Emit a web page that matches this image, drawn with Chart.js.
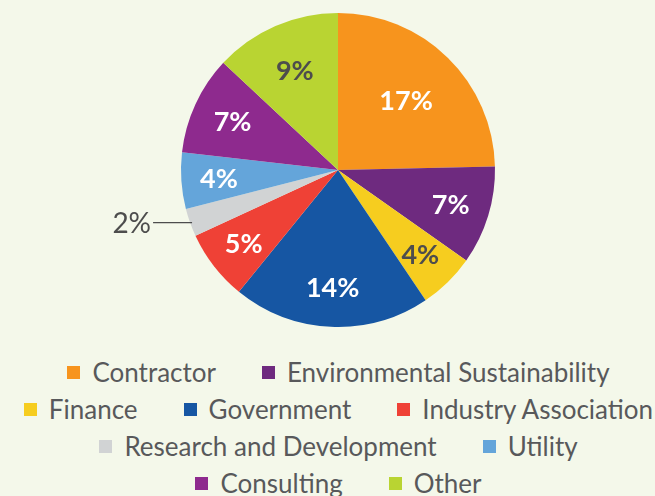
<!DOCTYPE html>
<html>
<head>
<meta charset="utf-8">
<title>Respondents by sector</title>
<script src="https://cdn.jsdelivr.net/npm/chart.js"></script>
<style>
  html, body { margin: 0; padding: 0; background: #f4f8ea; }
  #wrap { position: relative; width: 655px; height: 496px; overflow: hidden; }
  #chart-box { position: absolute; left: 0; top: 0; width: 655px; height: 340px; }
  #legend {
    position: absolute; left: 11px; top: 354px; width: 655px;
    display: flex; flex-wrap: wrap; justify-content: center; column-gap: 46px;
    font-family: Lato, sans-serif; font-size: 26px; color: #58595b; line-height: 37px;
  }
  .item { display: flex; align-items: center; white-space: nowrap; }
  .box { width: 13px; height: 13px; margin-right: 12px; }
</style>
</head>
<body>
<div id="wrap">
  <div id="chart-box"><canvas id="graph"></canvas></div>
  <div id="legend"></div>
</div>
<script>
// Sectors and their share of respondents (percent):
const sectors = [
  'Contractor', 'Environmental Sustainability', 'Finance', 'Government',
  'Industry Association', 'Research and Development', 'Utility',
  'Consulting', 'Other'
];
const shares = [17, 7, 4, 14, 5, 2, 4, 7, 9];

const sliceColors = [
  '#f7941d', '#6e2a7f', '#f6cd1f', '#1656a3',
  '#ef4136', '#d1d3d4', '#64a5da', '#8e2a8e', '#b9d432'
];

// Where each percent label sits, as a fraction of the radius (null = outside)
const labelRadius = [0.62, 0.75, 0.75, 0.75, 0.76, null, 0.76, 0.74, 0.69];
const darkText = '#4d4d4d';
const labelColors = ['#fff', '#fff', darkText, '#fff', '#fff', darkText, '#fff', '#fff', darkText];

// Draws the percent labels on (or next to) each slice:
const sliceLabels = {
  id: 'sliceLabels',
  afterDatasetsDraw(chart) {
    const ctx = chart.ctx;
    const meta = chart.getDatasetMeta(0);
    ctx.save();
    ctx.textBaseline = 'middle';
    meta.data.forEach((arc, i) => {
      const mid = (arc.startAngle + arc.endAngle) / 2;
      const text = shares[i] + '%';
      ctx.fillStyle = labelColors[i];
      if (labelRadius[i] === null) {
        // small slice: leader line out to the left
        const ex = arc.x + Math.cos(mid) * arc.outerRadius;
        const ey = arc.y + Math.sin(mid) * arc.outerRadius;
        ctx.strokeStyle = '#4d4d4d';
        ctx.lineWidth = 1.2;
        ctx.beginPath();
        ctx.moveTo(ex + 2, ey);
        ctx.lineTo(ex - 37, ey);
        ctx.stroke();
        ctx.font = '28px Lato';
        ctx.textAlign = 'right';
        ctx.fillText(text, ex - 39, ey + 1);
      } else {
        const r = arc.outerRadius * labelRadius[i];
        ctx.font = 'bold 27px Lato';
        ctx.textAlign = 'center';
        ctx.fillText(text, arc.x + Math.cos(mid) * r, arc.y + Math.sin(mid) * r + 1);
      }
    });
    ctx.restore();
  }
};

// HTML legend built from the chart's own legend items:
const htmlLegend = {
  id: 'htmlLegend',
  afterUpdate(chart) {
    const box = document.getElementById('legend');
    box.innerHTML = '';
    const items = Chart.overrides.pie.plugins.legend.labels.generateLabels(chart);
    items.forEach((item) => {
      const el = document.createElement('div');
      el.className = 'item';
      const sw = document.createElement('span');
      sw.className = 'box';
      sw.style.background = item.fillStyle;
      const label = document.createElement('span');
      label.textContent = item.text;
      el.appendChild(sw);
      el.appendChild(label);
      box.appendChild(el);
    });
  }
};

new Chart(document.getElementById('graph'), {
  type: 'pie',
  data: {
    labels: sectors,
    datasets: [{
      data: shares,
      backgroundColor: sliceColors,
      borderWidth: 0
    }]
  },
  options: {
    responsive: true,
    maintainAspectRatio: false,
    animation: false,
    layout: { padding: { left: 21, top: 13, bottom: 13 } },
    plugins: {
      legend: { display: false },
      tooltip: { enabled: false }
    }
  },
  plugins: [sliceLabels, htmlLegend]
});
</script>
</body>
</html>
